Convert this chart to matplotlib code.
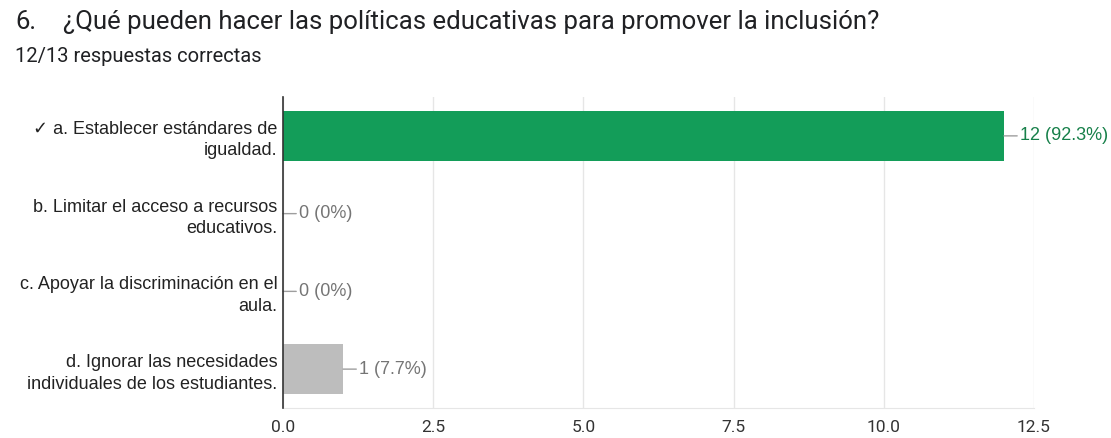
import matplotlib
matplotlib.use("Agg")
import matplotlib.pyplot as plt

plt.rcParams['font.family'] = ['Roboto', 'DejaVu Sans']
ARIAL = ['Liberation Sans', 'DejaVu Sans']

categories = [
    "✓ a. Establecer estándares de\nigualdad.",
    "b. Limitar el acceso a recursos\neducativos.",
    "c. Apoyar la discriminación en el\naula.",
    "d. Ignorar las necesidades\nindividuales de los estudiantes.",
]
counts = [12, 0, 0, 1]
percents = ["92.3%", "0%", "0%", "7.7%"]
correct = [True, False, False, False]
xticks = [0.0, 2.5, 5.0, 7.5, 10.0, 12.5]

GREEN = "#139d59"
GREEN_TXT = "#17804a"
GRAY_BAR = "#bdbdbd"
GRAY_TXT = "#757575"

fig = plt.figure(figsize=(11.11, 4.38), dpi=100)
ax = fig.add_axes([283/1111, 30/438, (1034-283)/1111, (409-98)/438])

ypos = list(range(len(categories)))
colors = [GREEN if c else GRAY_BAR for c in correct]
ax.barh(ypos, counts, height=0.65, color=colors, zorder=3)

ax.set_xlim(0, 12.5)
ax.set_ylim(len(categories) - 0.5, -0.5)
ax.set_xticks(xticks)
ax.set_xticklabels([f"{t:.1f}" for t in xticks], fontsize=12.5, color="#333333")
ax.set_yticks(ypos)
ax.set_yticklabels(categories, fontsize=13, color="#222222", linespacing=1.35,
                   family=ARIAL)
ax.tick_params(axis='both', length=0)
ax.tick_params(axis='y', pad=4)
ax.tick_params(axis='x', pad=9)

ax.grid(axis='x', color="#e6e6e6", linewidth=1, zorder=0)
for s in ["top", "right"]:
    ax.spines[s].set_visible(False)
ax.spines["bottom"].set_color("#e6e6e6")
ax.spines["left"].set_color("#333333")
ax.spines["left"].set_linewidth(1.2)
ax.spines["left"].set_zorder(5)

for y, (n, p, c) in enumerate(zip(counts, percents, correct)):
    col = GREEN_TXT if c else GRAY_TXT
    ax.annotate(f"{n} ({p})", xy=(n, y), xytext=(16, 0), textcoords='offset pixels',
                ha='left', va='center', fontsize=13, color=col, family=ARIAL,
                arrowprops=dict(arrowstyle='-', color="#9e9e9e", lw=1,
                                shrinkA=0, shrinkB=0))

fig.text(15/1111, 1 - 22/438, "6.", fontsize=18.5, color="#202124", va='center', ha='left')
fig.text(63/1111, 1 - 22/438, "¿Qué pueden hacer las políticas educativas para promover la inclusión?",
         fontsize=18.5, color="#202124", va='center', ha='left')
fig.text(15/1111, 1 - 57/438, "12/13 respuestas correctas", fontsize=14.5, color="#202124",
         va='center', ha='left')

fig.savefig("out.png", dpi=100)
